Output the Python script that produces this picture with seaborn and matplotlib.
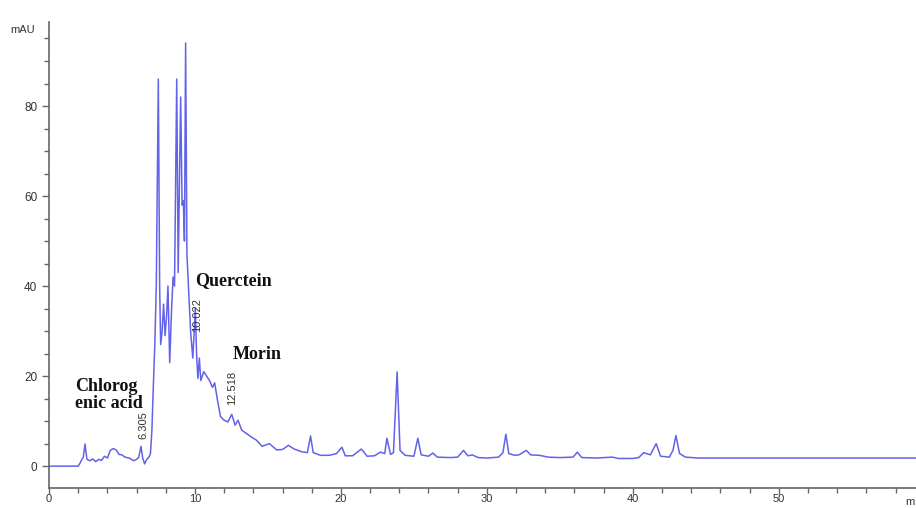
# HPLC chromatogram with labelled peaks

import matplotlib
matplotlib.use('Agg')
import matplotlib.pyplot as plt
from matplotlib.ticker import MultipleLocator
import seaborn as sns
import pandas as pd

# Retention time (min) and absorbance (mAU)
time_min = [
    0, 2.0, 2.1, 2.25, 2.35, 2.47, 2.6, 2.8, 3.0, 3.2, 3.4, 3.6, 3.8, 4.0, 4.2, 4.4,
    4.6, 4.8, 5.0, 5.2, 5.5, 5.8, 6.0, 6.15, 6.3, 6.42, 6.55, 6.7, 6.85, 6.95, 7.05,
    7.15, 7.25, 7.35, 7.49, 7.58, 7.65, 7.75, 7.85, 7.95, 8.05, 8.15, 8.27, 8.4, 8.5,
    8.6, 8.75, 8.85, 9.02, 9.12, 9.2, 9.28, 9.36, 9.45, 9.55, 9.7, 9.85, 9.95, 10.02,
    10.12, 10.2, 10.3, 10.4, 10.6, 10.8, 11.0, 11.2, 11.35, 11.55, 11.75, 12.0, 12.25,
    12.52, 12.75, 12.95, 13.2, 13.5, 13.9, 14.2, 14.6, 15.1, 15.6, 16.0, 16.4, 16.8,
    17.3, 17.7, 17.92, 18.1, 18.6, 19.2, 19.7, 20.07, 20.3, 20.8, 21.4, 21.8, 22.3,
    22.7, 23.0, 23.15, 23.4, 23.6, 23.85, 24.05, 24.4, 25.0, 25.27, 25.5, 26.0, 26.3,
    26.6, 27.5, 28.0, 28.4, 28.7, 29.0, 29.4, 30.0, 30.8, 31.1, 31.3, 31.5, 31.9, 32.2,
    32.7, 33.0, 33.6, 34.2, 35.0, 35.9, 36.2, 36.5, 37.5, 38.6, 39.0, 40.0, 40.4, 40.75,
    41.2, 41.6, 41.9, 42.5, 42.75, 42.95, 43.2, 43.6, 44.5, 59.4,
]
signal_mau = [
    0, 0, 0.5, 1.5, 2.0, 4.9, 1.5, 1.2, 1.6, 1.0, 1.5, 1.3, 2.2, 1.8, 3.5, 3.9,
    3.6, 2.6, 2.5, 2.0, 1.8, 1.2, 1.5, 2.0, 4.4, 1.8, 0.5, 1.5, 2.0, 2.8, 8,
    18, 27, 40, 86, 40, 27, 30, 36, 29, 33, 40, 23, 35, 42,
    40, 86, 43, 82, 58, 59, 50, 94, 47, 40, 30, 24, 30, 35,
    24, 19.5, 24, 19, 21, 20, 19, 17.5, 18.5, 14.5, 11, 10.2, 9.8,
    11.5, 9.1, 10.2, 8, 7.3, 6.4, 5.8, 4.4, 5.0, 3.6, 3.7, 4.6, 3.8,
    3.2, 3.0, 6.7, 3.0, 2.4, 2.4, 2.8, 4.2, 2.3, 2.3, 3.8, 2.2, 2.3,
    3.1, 2.8, 6.2, 2.6, 3.0, 20.9, 3.5, 2.4, 2.2, 6.2, 2.5, 2.2, 2.9,
    2.0, 1.9, 2.0, 3.5, 2.3, 2.5, 1.9, 1.8, 2.0, 3.0, 7.1, 2.8, 2.4, 2.5,
    3.5, 2.5, 2.4, 2.0, 1.9, 2.0, 3.1, 1.9, 1.8, 2.0, 1.7, 1.7, 1.9, 3.0,
    2.5, 5.0, 2.2, 2.0, 3.5, 6.8, 2.8, 2.0, 1.8, 1.8,
]

# Compound names and retention-time labels
compound_names = ['Chlorog\nenic acid', 'Querctein', 'Morin']
compound_pos = [(1.78, 15.8), (10.0, 41.3), (12.6, 24.7)]
rt_labels = ['6.305', '10.022', '12.518']
rt_pos = [(6.44, 9.1), (10.14, 33.6), (12.57, 17.3)]

sns.set_theme(style='white')
plt.rcParams['font.family'] = ['Liberation Sans', 'DejaVu Sans']

df = pd.DataFrame({'time': time_min, 'mAU': signal_mau})

fig = plt.figure(figsize=(9.16, 5.08), dpi=100)
ax = fig.add_axes([0.0535, 0.039, 0.9465, 0.918])

sns.lineplot(data=df, x='time', y='mAU', ax=ax, color='#6262ea', linewidth=1.1)

ax.set_xlim(0, 59.4)
ax.set_ylim(-4.9, 98.7)
ax.set_xlabel('')
ax.set_ylabel('')

# axes look
for side in ['top', 'right']:
    ax.spines[side].set_visible(False)
for side in ['left', 'bottom']:
    ax.spines[side].set_color('#666666')
    ax.spines[side].set_linewidth(1.2)

ax.xaxis.set_major_locator(MultipleLocator(10))
ax.xaxis.set_minor_locator(MultipleLocator(2))
ax.yaxis.set_major_locator(MultipleLocator(20))
ax.yaxis.set_minor_locator(MultipleLocator(5))
ax.tick_params(axis='both', which='both', direction='out', colors='#666666',
               labelcolor='#333333', labelsize=8.5)
ax.tick_params(axis='both', which='major', length=5, width=1, bottom=True, left=True)
ax.tick_params(axis='both', which='minor', length=3.5, width=1, bottom=True, left=True)
ax.tick_params(axis='x', which='major', length=4, pad=0.5, labelsize=8)

fig.text(10 / 916, 1 - 30 / 508, 'mAU', fontsize=8, color='#333333',
         ha='left', va='center')
fig.text(905 / 916, 1 - 502 / 508, 'm', fontsize=8, color='#333333',
         ha='left', va='center')

# compound names
for name, (x, y) in zip(compound_names, compound_pos):
    ax.text(x, y, name, fontsize=13, fontweight='bold', family='Liberation Serif',
            color='#111111', ha='left', va='center', linespacing=0.95)

# retention time labels
for lab, (x, y) in zip(rt_labels, rt_pos):
    ax.text(x, y, lab, fontsize=8, rotation=90, color='#333333',
            ha='center', va='center')

plt.savefig('out.png', dpi=100)
plt.close()
